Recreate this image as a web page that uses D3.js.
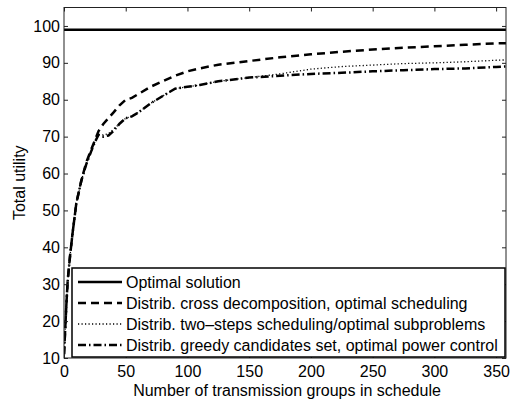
<!DOCTYPE html>
<html>
<head>
<meta charset="utf-8">
<script src="https://cdn.jsdelivr.net/npm/d3@7"></script>
<style>
  body { margin:0; background:#fff; }
  svg { display:block; font-family: Arial, "Liberation Sans", Helvetica, sans-serif; }
</style>
</head>
<body>
<svg id="chart" width="510" height="403"></svg>
<script>
// 데이터
const xVals = [0,1,2,3,5,7,10,14,18,22,25,28,32,36,40,45,50,55,60,70,80,90,100,110,125,150,175,200,225,250,275,300,325,350,358];
const optimalVal = 99;
const crossDecomp = [11,18,25,31,38,44,52,58,63,66.5,69,71.5,73.5,75,76.5,78.5,80,80.5,81.5,83.5,85,86.5,87.7,88.5,89.5,90.5,91.5,92.3,93,93.6,94.1,94.5,94.9,95.3,95.3];
const twoSteps    = [11,18,25,31,38,44,52,58,62.5,66,68.5,70.5,70.5,70.8,72,73.5,75,75.5,76.5,79,81,83,83.5,84,85,86,87,88.3,89,89.4,89.8,90,90.3,90.7,90.8];
const greedy      = [11,18,25,31,38,44,52,58,62.5,66,68.5,70.5,70,70.3,71.5,73.5,75,75.5,76.5,79,81,83,83.5,84,85,86,86.5,87,87.3,87.7,88,88.3,88.5,88.9,89];
const xTicks = [0,50,100,150,200,250,300,350];
const yTicks = [10,20,30,40,50,60,70,80,90,100];
const legendLabels = [
  'Optimal solution',
  'Distrib. cross decomposition, optimal scheduling',
  'Distrib. two\u2013steps scheduling/optimal subproblems',
  'Distrib. greedy candidates set, optimal power control'
];

const L = 64, T = 7.5, R = 506, B = 358;
const FS = 16;
const svg = d3.select('#chart');

const x = d3.scaleLinear().domain([0, 358]).range([L, R]);
const y = d3.scaleLinear().domain([10, 105]).range([B, T]);

// 선 스타일
const styles = [
  { w: 2.5, dash: null },
  { w: 2.5, dash: '8,5' },
  { w: 1.3, dash: '1.2,2.3' },
  { w: 2.5, dash: '8,3,1.5,3' },
];

svg.append('clipPath').attr('id', 'clip')
  .append('rect').attr('x', L).attr('y', T).attr('width', R - L).attr('height', B - T);

const g = svg.append('g').attr('clip-path', 'url(#clip)');
const line = d3.line().x((d, i) => x(xVals[i])).y(d => y(d));

const seriesList = [xVals.map(() => optimalVal), crossDecomp, twoSteps, greedy];
seriesList.forEach((s, k) => {
  g.append('path')
    .attr('d', line(s))
    .attr('fill', 'none')
    .attr('stroke', '#000')
    .attr('stroke-width', styles[k].w)
    .attr('stroke-dasharray', styles[k].dash);
});

// 축 (MATLAB 스타일: 안쪽 눈금, 사방 박스)
const axisColor = '#222';
svg.append('g').attr('transform', `translate(0,${B})`)
  .call(d3.axisBottom(x).tickValues(xTicks).tickSizeInner(-4).tickSizeOuter(0).tickPadding(8))
  .call(a => a.select('.domain').remove());
svg.append('g').attr('transform', `translate(0,${T})`)
  .call(d3.axisTop(x).tickValues(xTicks).tickSizeInner(-4).tickSizeOuter(0).tickFormat(''))
  .call(a => a.select('.domain').remove());
svg.append('g').attr('transform', `translate(${L},0)`)
  .call(d3.axisLeft(y).tickValues(yTicks).tickSizeInner(-4).tickSizeOuter(0).tickPadding(4))
  .call(a => a.select('.domain').remove());
svg.append('g').attr('transform', `translate(${R},0)`)
  .call(d3.axisRight(y).tickValues(yTicks).tickSizeInner(-4).tickSizeOuter(0).tickFormat(''))
  .call(a => a.select('.domain').remove());

svg.selectAll('.tick line').attr('stroke', axisColor);
svg.selectAll('.tick text').attr('fill', '#000').attr('font-size', FS)
  .attr('font-family', 'Arial, "Liberation Sans", sans-serif');

svg.append('rect')
  .attr('x', L).attr('y', T).attr('width', R - L).attr('height', B - T)
  .attr('fill', 'none').attr('stroke', axisColor).attr('stroke-width', 1);

// 축 제목
svg.append('text')
  .attr('x', 287).attr('y', 396)
  .attr('text-anchor', 'middle').attr('font-size', FS)
  .text('Number of transmission groups in schedule');
svg.append('text')
  .attr('transform', `translate(25,${(T + B) / 2}) rotate(-90)`)
  .attr('text-anchor', 'middle').attr('font-size', FS)
  .text('Total utility');

// 범례
const lg = svg.append('g');
lg.append('rect')
  .attr('x', 72).attr('y', 268).attr('width', 433).attr('height', 89)
  .attr('fill', '#fff').attr('stroke', '#000').attr('stroke-width', 1.5);
legendLabels.forEach((lab, k) => {
  const yy = 282 + k * 21;
  lg.append('line')
    .attr('x1', 78).attr('x2', 122).attr('y1', yy).attr('y2', yy)
    .attr('stroke', '#000')
    .attr('stroke-width', styles[k].w)
    .attr('stroke-dasharray', styles[k].dash);
  lg.append('text')
    .attr('x', 126).attr('y', yy).attr('dy', '0.35em')
    .attr('font-size', FS)
    .text(lab);
});
</script>
</body>
</html>
